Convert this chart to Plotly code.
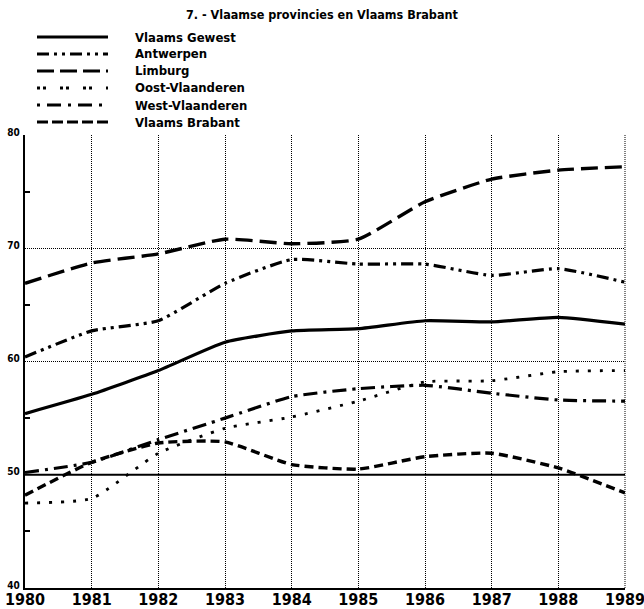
import plotly.graph_objects as go

years = [1980, 1981, 1982, 1983, 1984, 1985, 1986, 1987, 1988, 1989]
vlaams_gewest = [55.4, 57.1, 59.2, 61.7, 62.7, 62.9, 63.6, 63.5, 63.9, 63.3]
antwerpen = [60.4, 62.7, 63.6, 66.9, 69.0, 68.6, 68.6, 67.6, 68.2, 67.0]
limburg = [66.9, 68.7, 69.5, 70.8, 70.4, 70.8, 74.1, 76.1, 76.9, 77.2]
oost_vlaanderen = [47.5, 47.9, 51.9, 54.1, 55.1, 56.5, 58.2, 58.3, 59.1, 59.2]
west_vlaanderen = [50.2, 51.1, 53.1, 55.0, 56.9, 57.6, 57.9, 57.2, 56.6, 56.5]
vlaams_brabant = [48.2, 51.1, 52.8, 52.9, 50.9, 50.5, 51.6, 51.9, 50.6, 48.4]

y_ticks = [40, 50, 60, 70, 80]
title = "7. - Vlaamse provincies en Vlaams Brabant"

series = [
    ("Vlaams Gewest", vlaams_gewest, "solid", 3.2),
    ("Antwerpen", antwerpen, "12px,5px,3px,5px,3px,5px", 3.2),
    ("Limburg", limburg, "17px,7px", 3.4),
    ("Oost-Vlaanderen", oost_vlaanderen, "3px,9px", 2.8),
    ("West-Vlaanderen", west_vlaanderen, "14px,6px,3px,6px", 3.2),
    ("Vlaams Brabant", vlaams_brabant, "9px,5px", 3.4),
]

FONT = "DejaVu Sans Condensed, Liberation Sans Narrow, sans-serif"
W, H = 644, 609
L, R, T, B = 25, 19, 135, 21
pw, ph = W - L - R, H - T - B

def px(x):
    return (x - L) / pw

def py(y):
    return (H - B - y) / ph

fig = go.Figure()
for name, vals, dash, w in series:
    fig.add_trace(go.Scatter(
        x=years, y=vals, mode="lines", name=name,
        line=dict(color="black", width=w, dash=dash, shape="spline", smoothing=0.5),
        showlegend=False, hoverinfo="skip",
    ))

shapes = []
annotations = []
# solid 50 reference line and dotted right frame
shapes.append(dict(type="line", xref="paper", yref="y", x0=0, x1=1, y0=50, y1=50,
                   line=dict(color="black", width=2.2), layer="below"))
shapes.append(dict(type="line", xref="paper", yref="paper", x0=1, x1=1, y0=0, y1=1,
                   line=dict(color="black", width=1, dash="1px,1px"), layer="below"))

legend_rows = [37, 54, 71, 88, 105, 122]
legend_dash = {
    "Vlaams Gewest": "solid",
    "Antwerpen": "12px,5px,3px,5px,3px,5px",
    "Limburg": "17px,6px",
    "Oost-Vlaanderen": "3px,3px,3px,14px",
    "West-Vlaanderen": "3px,7px,14px,7px",
    "Vlaams Brabant": "11px,4px",
}
for (name, vals, dash, w), ry in zip(series, legend_rows):
    shapes.append(dict(type="line", xref="paper", yref="paper",
                       x0=px(37), x1=px(108), y0=py(ry), y1=py(ry),
                       line=dict(color="black", width=3.2, dash=legend_dash[name])))
    annotations.append(dict(xref="paper", yref="paper", x=px(133), y=py(ry),
                            xanchor="left", yanchor="middle", showarrow=False,
                            text="<b>" + name + "</b>",
                            font=dict(family=FONT, size=13, color="black")))

annotations.append(dict(xref="paper", yref="paper", x=px(322), y=py(15),
                        xanchor="center", yanchor="middle", showarrow=False,
                        text="<b>" + title + "</b>",
                        font=dict(family=FONT, size=12.5, color="black")))

fig.update_layout(
    width=W, height=H,
    margin=dict(l=L, r=R, t=T, b=B, pad=0, autoexpand=False),
    paper_bgcolor="white", plot_bgcolor="white",
    shapes=shapes, annotations=annotations,
    showlegend=False,
    xaxis=dict(
        range=[1980, 1989], tickmode="array", tickvals=years,
        ticktext=["<b>%d</b>" % y for y in years],
        tickfont=dict(family=FONT, size=16, color="black"),
        showgrid=True, gridcolor="black", gridwidth=1, griddash="1px,1px",
        showline=True, linecolor="black", linewidth=2.2,
        ticks="", zeroline=False, mirror=False, automargin=False,
        ticklabeloverflow="allow", ticklabelstandoff=-4,
    ),
    yaxis=dict(
        range=[40, 80], tickmode="array", tickvals=y_ticks,
        ticktext=["<b>%d</b>" % v for v in y_ticks],
        tickfont=dict(family=FONT, size=10, color="black"),
        showgrid=True, gridcolor="black", gridwidth=1, griddash="1px,1px",
        showline=True, linecolor="black", linewidth=2.2,
        ticks="", zeroline=False, ticklabelstandoff=1, automargin=False,
        ticklabeloverflow="allow", ticklabelshift=-3,
        minor=dict(ticks="inside", ticklen=5, tickcolor="black", tickwidth=1.5,
                   tickvals=[45, 55, 65, 75], showgrid=False),
    ),
)

fig.write_html(
    "out.html",
    config={"displayModeBar": False},
    post_script="document.body.style.margin='0';document.body.style.overflow='hidden';",
)
